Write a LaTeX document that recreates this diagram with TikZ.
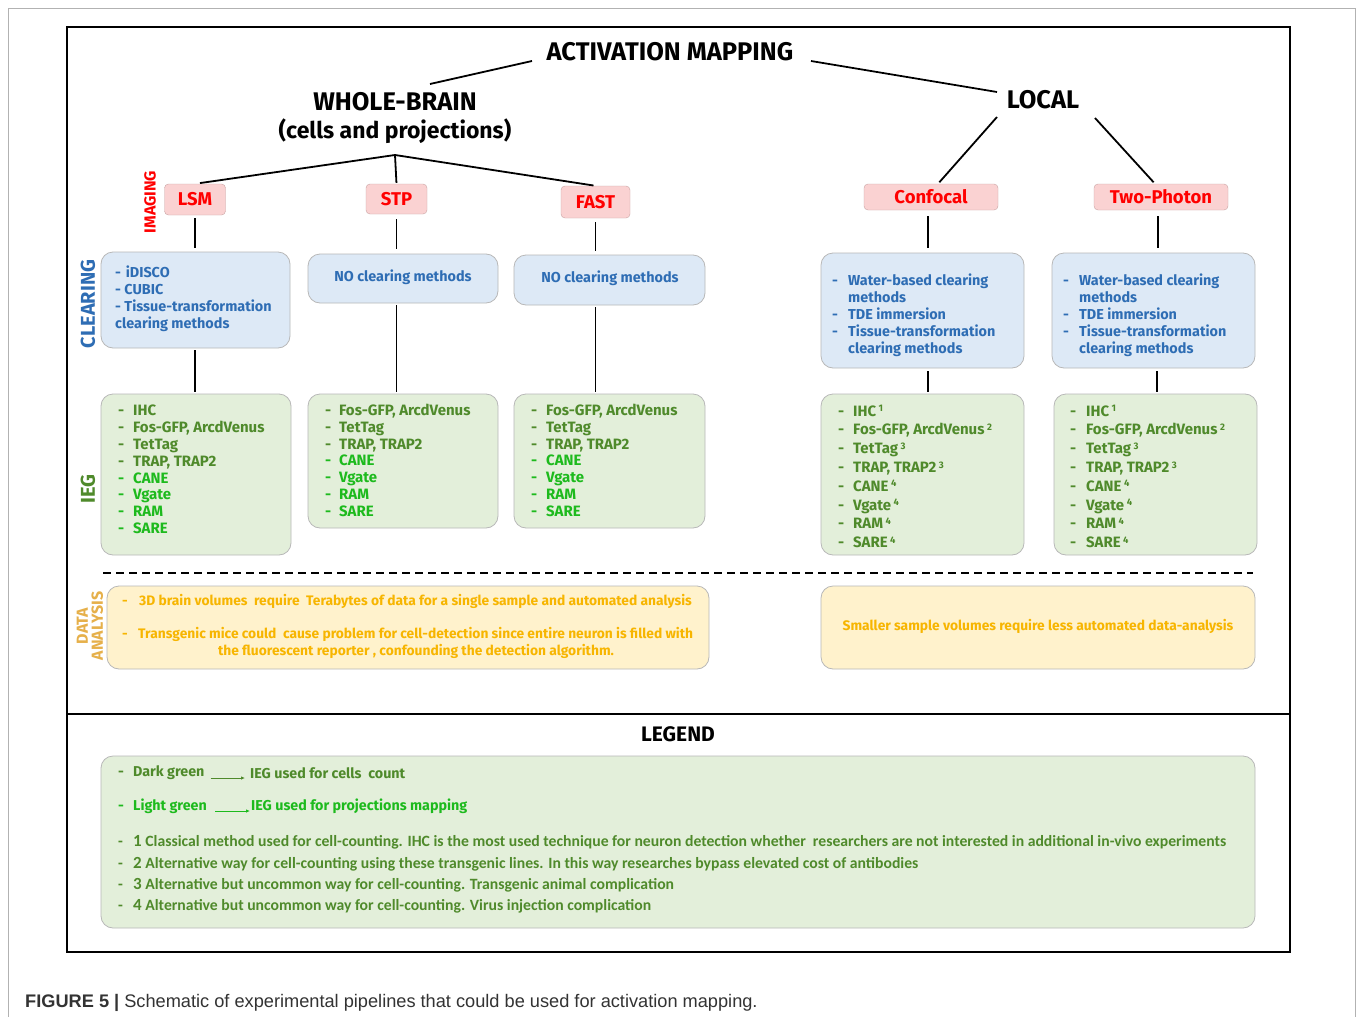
\documentclass[tikz,border=0pt]{standalone}
\usepackage{fontspec}
\setmainfont{Fira Sans}
\newfontfamily\capfont{Liberation Sans}
\newfontfamily\condfont{Carlito}
\usetikzlibrary{arrows.meta}
\definecolor{pinkfill}{HTML}{FAD2D2}
\definecolor{pinkline}{HTML}{C9A3A3}
\definecolor{bluefill}{HTML}{DDE9F6}
\definecolor{bluetext}{HTML}{2E6DB4}
\definecolor{greenfill}{HTML}{E3EFDA}
\definecolor{dkgreen}{HTML}{4F8A2B}
\definecolor{ltgreen}{HTML}{1DBA1D}
\definecolor{yellowfill}{HTML}{FFF2CC}
\definecolor{goldtext}{HTML}{F7B500}
\definecolor{goldlabel}{HTML}{E6B04A}
\definecolor{boxline}{HTML}{B8B8B8}
\definecolor{redtext}{HTML}{FF0000}
\definecolor{captext}{HTML}{333333}
\newcommand\bl[2][15pt]{\makebox[#1][l]{-}#2}
\newcommand\sps[1]{\,\raisebox{4.5pt}{\fontsize{9.5}{9.5}\selectfont #1}}
\tikzset{
  conn/.style={line width=1.8pt, black},
  imgbox/.style={draw=pinkline, fill=pinkfill, rounded corners=4pt, text=redtext,
    font=\bfseries\fontsize{18.5}{20}\selectfont, inner sep=0pt},
  clrbox/.style={draw=boxline, fill=bluefill, rounded corners=12pt, line width=0.8pt, inner sep=0pt},
  iegbox/.style={draw=boxline, fill=greenfill, rounded corners=12pt, line width=0.8pt, inner sep=0pt},
  databox/.style={draw=boxline, fill=yellowfill, rounded corners=12pt, line width=0.8pt, inner sep=0pt},
  bluetxt/.style={text=bluetext, font=\bfseries\fontsize{14.4}{17}\selectfont, align=left, inner sep=0pt, anchor=north west},
  iegtxt/.style={text=dkgreen, font=\bfseries\fontsize{15}{16.8}\selectfont, align=left, inner sep=0pt, anchor=north west},
  iegtxtb/.style={text=dkgreen, font=\bfseries\fontsize{15}{18.8}\selectfont, align=left, inner sep=0pt, anchor=north west},
  goldtxt/.style={text=goldtext, font=\bfseries\fontsize{13.8}{15}\selectfont, inner sep=0pt},
  headtxt/.style={font=\bfseries\fontsize{25.5}{28}\selectfont, inner sep=0pt},
  legtxt/.style={font=\bfseries\fontsize{14.3}{16}\selectfont, inner sep=0pt, anchor=west},
  foot/.style={text=dkgreen, font=\condfont\bfseries\fontsize{15.7}{17}\selectfont, inner sep=0pt, anchor=west},
}
\begin{document}
\begin{tikzpicture}[x=1pt,y=-1pt]
\fill[white] (0,0) rectangle (1358,1017);
\useasboundingbox (0,0) rectangle (1358,1017);
% outer light frame
\draw[black!30, line width=0.8pt] (8,1017) -- (8,8) -- (1355,8) -- (1355,1017);
% main frame
\draw[line width=1.6pt] (67,27) rectangle (1290,952);
\draw[line width=1.6pt] (67,714) -- (1290,714);

% headings
\node[headtxt] (am) at (670,52) {ACTIVATION MAPPING};
\node[headtxt, align=center] (wb) at (395,118) {WHOLE-BRAIN\\{\fontsize{23}{28}\selectfont(cells and projections)}};
\node[headtxt] (loc) at (1043,100) {LOCAL};
\coordinate (aml) at (532,61);
\coordinate (amr) at (811,61);
\coordinate (wbt) at (430,84);
\coordinate (loct) at (997,92);
\coordinate (wbj) at (395,155);
\coordinate (locl) at (997,117);
\coordinate (locr) at (1095,118);
\draw[conn] (aml) -- (wbt);
\draw[conn] (amr) -- (loct);

% imaging boxes
\node[imgbox, minimum width=61, minimum height=31] (lsm) at (195,199.5) {LSM};
\node[imgbox, minimum width=61, minimum height=30] (stp) at (396.5,199) {STP};
\node[imgbox, minimum width=69, minimum height=32] (fast) at (595.5,202) {FAST};
\node[imgbox, minimum width=134, minimum height=26] (conf) at (931,197) {Confocal};
\node[imgbox, minimum width=134, minimum height=26] (tp) at (1161,197) {Two-Photon};

\draw[conn, shorten >=5pt] (wbj) -- (lsm.north);
\draw[conn, shorten >=1pt] (wbj) -- (stp.north);
\draw[conn, shorten >=2pt] (wbj) -- (fast.north);
\draw[conn, shorten >=2pt] (locl) -- ([xshift=7]conf.north);
\draw[conn, shorten >=2pt] (locr) -- ([xshift=-6]tp.north);

% side labels
\node[rotate=90, text=redtext, font=\bfseries\fontsize{16}{18}\selectfont, inner sep=0pt] (limg) at (150,202) {IMAGING};
\node[rotate=90, text=bluetext, font=\bfseries\fontsize{20}{22}\selectfont, inner sep=0pt] (lclr) at (88,304) {CLEARING};
\node[rotate=90, text=dkgreen, font=\bfseries\fontsize{20}{22}\selectfont, inner sep=0pt] (lieg) at (88,489) {IEG};
\node[rotate=90, text=goldlabel, font=\bfseries\fontsize{16}{15}\selectfont, inner sep=0pt, align=center] (ldat) at (90,626) {DATA\\ANALYSIS};

% clearing boxes
\node[clrbox, minimum width=189, minimum height=96] (lsmc) at (195.5,300) {};
\node[clrbox, minimum width=190, minimum height=49] (stpc) at (403,278.5) {};
\node[clrbox, minimum width=191, minimum height=50] (fastc) at (609.5,280) {};
\node[clrbox, minimum width=203, minimum height=115] (confc) at (922.5,310.5) {};
\node[clrbox, minimum width=203, minimum height=115] (tpc) at (1153.5,310.5) {};

\node[bluetxt] (lsmct) at (115,266) {-\,\,iDISCO\\- CUBIC\\- Tissue-transformation\\clearing methods};
\node[bluetxt, anchor=center] (stpct) at (403,277) {NO clearing methods};
\node[bluetxt, anchor=center] (fastct) at (610,278) {NO clearing methods};
\node[bluetxt] (confct) at (832,274) {\bl[16pt]{Water-based clearing}\\\hspace*{16pt}methods\\\bl[16pt]{TDE immersion}\\\bl[16pt]{Tissue-transformation}\\\hspace*{16pt}clearing methods};
\node[bluetxt] (tpct) at (1063,274) {\bl[16pt]{Water-based clearing}\\\hspace*{16pt}methods\\\bl[16pt]{TDE immersion}\\\bl[16pt]{Tissue-transformation}\\\hspace*{16pt}clearing methods};

% IEG boxes
\node[iegbox, minimum width=190, minimum height=161] (lsmi) at (196,474.5) {};
\node[iegbox, minimum width=190, minimum height=134] (stpi) at (403,461) {};
\node[iegbox, minimum width=191, minimum height=134] (fasti) at (609.5,461) {};
\node[iegbox, minimum width=203, minimum height=161] (confi) at (922.5,474.5) {};
\node[iegbox, minimum width=203, minimum height=161] (tpi) at (1155.5,474.5) {};

\node[iegtxt] (lsmit) at (118,405) {\bl{IHC}\\\bl{Fos-GFP, ArcdVenus}\\\bl{TetTag}\\\bl{TRAP, TRAP2}\\
 \color{ltgreen}\bl{CANE}\\\color{ltgreen}\bl{Vgate}\\\color{ltgreen}\bl{RAM}\\\color{ltgreen}\bl{SARE}};
\node[iegtxt] (stpit) at (325,404) {\bl[14pt]{Fos-GFP, ArcdVenus}\\\bl[14pt]{TetTag}\\\bl[14pt]{TRAP, TRAP2}\\
 \color{ltgreen}\bl[14pt]{CANE}\\\color{ltgreen}\bl[14pt]{Vgate}\\\color{ltgreen}\bl[14pt]{RAM}\\\color{ltgreen}\bl[14pt]{SARE}};
\node[iegtxt] (fastit) at (531,404) {\bl[15pt]{Fos-GFP, ArcdVenus}\\\bl[15pt]{TetTag}\\\bl[15pt]{TRAP, TRAP2}\\
 \color{ltgreen}\bl[15pt]{CANE}\\\color{ltgreen}\bl[15pt]{Vgate}\\\color{ltgreen}\bl[15pt]{RAM}\\\color{ltgreen}\bl[15pt]{SARE}};
\node[iegtxtb] (confit) at (838,405) {\bl{IHC\sps{1}}\\\bl{Fos-GFP, ArcdVenus\sps{2}}\\\bl{TetTag\sps{3}}\\\bl{TRAP, TRAP2\sps{3}}\\
 \bl{CANE\sps{4}}\\\bl{Vgate\sps{4}}\\\bl{RAM\sps{4}}\\\bl{SARE\sps{4}}};
\node[iegtxtb] (tpit) at (1070,405) {\bl[16pt]{IHC\sps{1}}\\\bl[16pt]{Fos-GFP, ArcdVenus\sps{2}}\\\bl[16pt]{TetTag\sps{3}}\\\bl[16pt]{TRAP, TRAP2\sps{3}}\\
 \bl[16pt]{CANE\sps{4}}\\\bl[16pt]{Vgate\sps{4}}\\\bl[16pt]{RAM\sps{4}}\\\bl[16pt]{SARE\sps{4}}};

% vertical connectors
\draw[conn, shorten <=3pt, shorten >=4pt] (lsm.south) -- (lsm.south |- lsmc.north);
\draw[conn, shorten <=5pt, shorten >=5pt] (stp.south) -- (stp.south |- stpc.north);
\draw[conn, shorten <=4pt, shorten >=4pt] (fast.south) -- (fast.south |- fastc.north);
\draw[conn, shorten <=6pt, shorten >=5pt] ([xshift=-3]conf.south) -- ([xshift=-3]conf.south |- confc.north);
\draw[conn, shorten <=6pt, shorten >=5pt] ([xshift=-3]tp.south) -- ([xshift=-3]tp.south |- tpc.north);
\draw[conn, shorten <=2pt, shorten >=2pt] (lsm.south |- lsmc.south) -- (lsm.south |- lsmi.north);
\draw[conn, shorten <=2pt, shorten >=2pt] (stp.south |- stpc.south) -- (stp.south |- stpi.north);
\draw[conn, shorten <=2pt, shorten >=2pt] (fast.south |- fastc.south) -- (fast.south |- fasti.north);
\draw[conn, shorten <=3pt, shorten >=2pt] ([xshift=-3]conf.south |- confc.south) -- ([xshift=-3]conf.south |- confi.north);
\draw[conn, shorten <=3pt, shorten >=2pt] ([xshift=-4]tp.south |- tpc.south) -- ([xshift=-4]tp.south |- tpi.north);

% dashed separator
\draw[line width=1.6pt, dash pattern=on 8pt off 5pt] (103,573) -- (1253,573);

% data analysis
\node[databox, minimum width=602, minimum height=83] (dl) at (408,627.5) {};
\node[databox, minimum width=434, minimum height=83] (dr) at (1038,627.5) {};
\node[goldtxt, anchor=west] (dl1) at (122,601) {\makebox[17pt][l]{-}3D brain volumes\ \ require\ \ Terabytes of data for a single sample and automated analysis};
\node[goldtxt, anchor=west] (dl2) at (122,634) {\makebox[16pt][l]{-}Transgenic mice could\ \ cause problem for cell-detection since entire neuron is filled with};
\node[goldtxt] (dl3) at (416,651) {the fluorescent reporter , confounding the detection algorithm.};
\node[goldtxt] (dr1) at (1038,626) {Smaller sample volumes require less automated data-analysis};

% legend
\node[font=\bfseries\fontsize{21}{23}\selectfont, inner sep=0pt] (leg) at (678,734) {LEGEND};
\node[iegbox, minimum width=1154, minimum height=172] (legbox) at (678,842) {};
\node[legtxt, text=dkgreen] (dg) at (118,773) {\bl{Dark green}};
\node[legtxt, text=dkgreen] (dgd) at (250,773) {IEG used for cells\ \ count};
\node[legtxt, text=ltgreen] (lg) at (118,806) {\bl{Light green}};
\node[legtxt, text=ltgreen] (lgd) at (251,806) {IEG used for projections mapping};
\draw[dkgreen, line width=0.8pt, -{Latex[length=4pt,width=3.5pt]}, shorten <=6pt, shorten >=5pt] ([yshift=-5]dg.east) -- ([yshift=-5]dgd.west);
\draw[ltgreen, line width=0.8pt, -{Latex[length=4pt,width=3.5pt]}, shorten <=8pt, shorten >=1pt] ([yshift=-5]lg.east) -- ([yshift=-5]lgd.west);
\node[foot] (f1) at (118,842) {\bl{{\fontsize{17}{17}\selectfont 1} Classical method used for cell-counting. IHC is the most used technique for neuron detection whether\ \ researchers are not interested in additional in-vivo experiments}};
\node[foot] (f2) at (118,864) {\bl{{\fontsize{17}{17}\selectfont 2} Alternative way for cell-counting using these transgenic lines. In this way researches bypass elevated cost of antibodies}};
\node[foot] (f3) at (118,885) {\bl{{\fontsize{17}{17}\selectfont 3} Alternative but uncommon way for cell-counting. Transgenic animal complication}};
\node[foot] (f4) at (118,906) {\bl{{\fontsize{17}{17}\selectfont 4} Alternative but uncommon way for cell-counting. Virus injection complication}};

% caption
\node[text=captext, font=\capfont\fontsize{18.2}{20}\selectfont, inner sep=0pt, anchor=base west] (cap) at (25,1007) {\textbf{FIGURE 5 |} Schematic of experimental pipelines that could be used for activation mapping.};
\end{tikzpicture}
\end{document}
